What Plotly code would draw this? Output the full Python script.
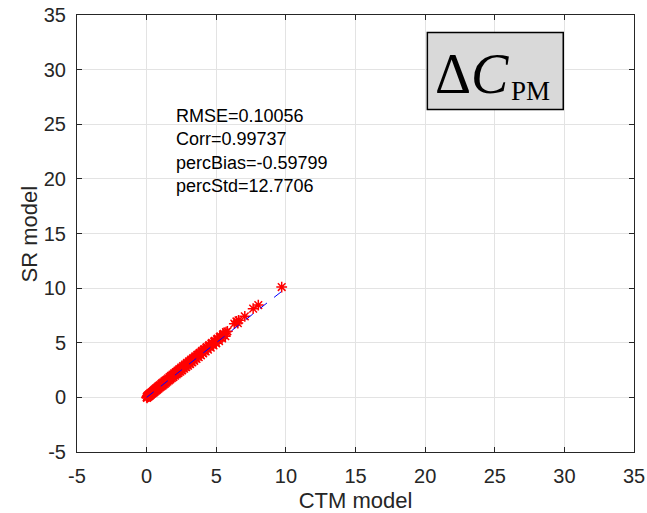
import plotly.graph_objects as go

ctm = [0.00,0.03,0.05,0.08,0.10,0.12,0.15,0.18,0.20,0.22,
       0.25,0.28,0.30,0.33,0.36,0.40,0.42,0.45,0.48,0.52,
       0.55,0.58,0.62,0.65,0.68,0.72,0.75,0.78,0.82,0.85,
       0.90,0.93,0.97,1.00,1.05,1.08,1.12,1.16,1.20,1.24,
       1.28,1.32,1.36,1.40,1.45,1.50,1.55,1.60,1.65,1.70,
       1.75,1.80,1.86,1.92,1.98,2.04,2.10,2.16,2.22,2.28,
       2.35,2.42,2.48,2.55,2.62,2.70,2.76,2.84,2.90,2.98,
       3.05,3.12,3.20,3.28,3.35,3.42,3.50,3.58,3.66,3.74,
       3.82,3.90,3.98,4.06,4.15,4.24,4.32,4.40,4.50,4.60,
       4.70,4.80,4.90,5.00,5.10,5.20,5.30,5.42,5.55,5.65,
       5.80,6.30,6.45,6.55,6.60,7.05,7.65,8.02,9.70,
       0.06,0.17,0.27,0.38,0.50,0.60,0.70,0.80,0.95,1.10,
       1.22,1.34,1.47,1.58,1.72,1.83,1.95,2.07,2.19,2.31,
       2.45,2.58,2.73,2.87,3.02,3.16,3.31,3.46,3.62,3.78,
       3.94,4.10,4.28,4.45,4.65,4.85,5.05,5.25,5.48,5.70]
sr  = [0.02,-0.05,0.10,0.04,0.18,0.06,0.22,0.12,0.30,0.15,
       0.35,0.22,0.40,0.28,0.46,0.35,0.52,0.40,0.60,0.45,
       0.68,0.52,0.75,0.60,0.82,0.66,0.90,0.72,0.98,0.80,
       1.05,0.88,1.12,0.95,1.22,1.02,1.30,1.10,1.38,1.18,
       1.47,1.25,1.55,1.35,1.63,1.45,1.75,1.55,1.85,1.65,
       1.96,1.75,2.08,1.86,2.20,1.98,2.32,2.10,2.45,2.22,
       2.58,2.35,2.72,2.48,2.86,2.62,3.00,2.76,3.15,2.90,
       3.30,3.05,3.46,3.20,3.60,3.35,3.76,3.52,3.92,3.68,
       4.08,3.85,4.25,4.02,4.42,4.20,4.60,4.36,4.78,4.55,
       4.98,4.75,5.18,4.95,5.38,5.15,5.58,5.40,5.82,5.60,
       6.05,6.75,6.95,6.80,7.05,7.42,8.12,8.45,10.10,
       0.12,0.22,0.33,0.45,0.57,0.68,0.78,0.88,1.03,1.19,
       1.32,1.44,1.58,1.70,1.84,1.96,2.09,2.22,2.34,2.47,
       2.62,2.75,2.91,3.05,3.21,3.36,3.51,3.67,3.84,4.00,
       4.17,4.34,4.52,4.70,4.91,5.11,5.32,5.52,5.76,5.98]

line_x = [0.0, 10.0]
line_y = [0.0, 10.0]

axis_ticks = [-5, 0, 5, 10, 15, 20, 25, 30, 35]
axis_ticktext = ["-5", "0", "5", "10", "15", "20", "25", "30", "35"]
stats_lines = ["RMSE=0.10056", "Corr=0.99737", "percBias=-0.59799", "percStd=12.7706"]

fig = go.Figure()
fig.add_trace(go.Scatter(x=ctm, y=sr, mode="markers",
                         marker=dict(symbol="asterisk-open", size=9,
                                     line=dict(color="red", width=1.5), color="red"),
                         showlegend=False))
fig.add_trace(go.Scatter(x=line_x, y=line_y, mode="lines",
                         line=dict(color="blue", width=1, dash="dash"),
                         showlegend=False))

axcommon = dict(range=[-5, 35], tickvals=axis_ticks, ticktext=axis_ticktext,
                showgrid=True, gridcolor="#e3e3e3",
                gridwidth=1, zeroline=False, showline=True, linecolor="#262626",
                linewidth=1, mirror="ticks", ticks="inside", ticklen=5,
                tickcolor="#262626", tickfont=dict(size=20, color="#262626"),
                automargin=False, ticklabeloverflow="allow")

fig.update_xaxes(**axcommon, title=dict(text="CTM model", font=dict(size=22, color="#262626")),
                 ticklabelstandoff=6)
fig.update_yaxes(**axcommon, ticklabelstandoff=6)

fig.add_annotation(xref="paper", yref="paper", x=-0.0844, y=0.5, xanchor="center", yanchor="middle",
                   text="SR model", textangle=-90, showarrow=False,
                   font=dict(size=22, color="#262626"))

fig.add_shape(type="rect", xref="paper", yref="paper", x0=0.629, x1=0.873, y0=0.784, y1=0.960,
              line=dict(color="black", width=1.5), fillcolor="#d9d9d9", layer="above")

fig.add_annotation(xref="paper", yref="paper", x=0.640, y=0.866, xanchor="left", yanchor="middle",
                   text="Δ<i>C</i>", showarrow=False,
                   font=dict(family="Liberation Serif", size=56, color="black"))
fig.add_annotation(xref="paper", yref="paper", x=0.776, y=0.825, xanchor="left", yanchor="middle",
                   text="PM", showarrow=False,
                   font=dict(family="Liberation Serif", size=27, color="black"))

fig.add_annotation(xref="paper", yref="paper", x=0.174, y=0.796, xanchor="left", yanchor="top",
                   align="left", text="<br>".join(stats_lines), showarrow=False,
                   font=dict(size=18, color="black"))

fig.update_layout(width=647, height=513, margin=dict(l=77, r=13, t=15, b=61),
                  plot_bgcolor="white", paper_bgcolor="white",
                  font=dict(family="Liberation Sans, Arial, sans-serif"))

# remove the default 8px page margin so the figure fills the window exactly
fig.write_html("out.html", config={"displayModeBar": False},
               post_script="document.body.style.margin='0';document.body.style.overflow='hidden';")
